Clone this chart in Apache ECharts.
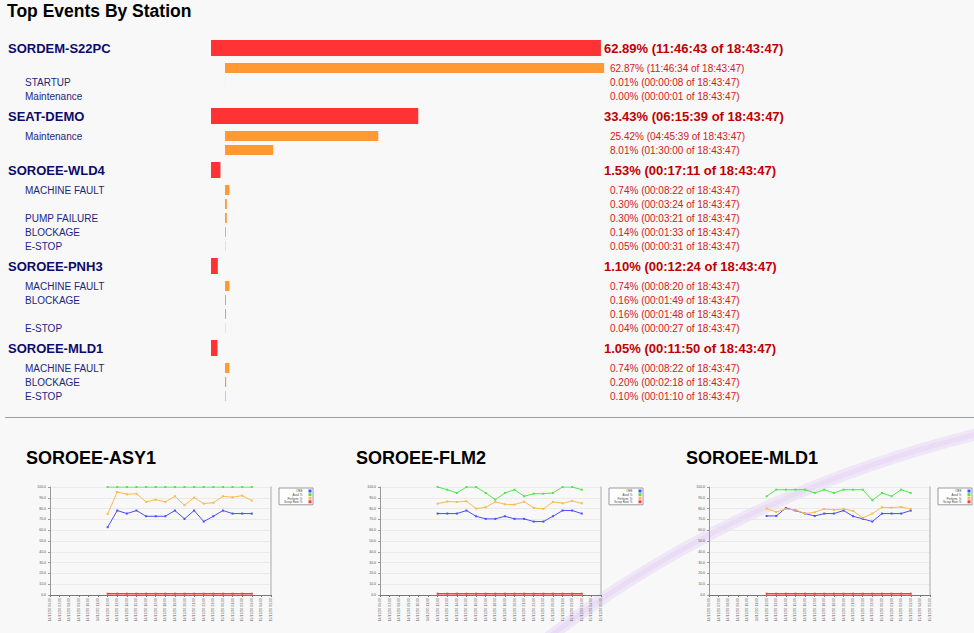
<!DOCTYPE html>
<html><head><meta charset="utf-8">
<script src="https://cdn.jsdelivr.net/npm/echarts@6/dist/echarts.min.js"></script>
<style>html,body{margin:0;padding:0;background:#f8f8f8;}#c{width:974px;height:633px;}</style>
</head><body><div id="c"></div>
<script>
// ---------- DATA ----------
const pageTitle = 'Top Events By Station';
const totalTime = '18:43:47';
const rowLabels = ['SORDEM-S22PC','','STARTUP','Maintenance','SEAT-DEMO','Maintenance','','SOROEE-WLD4','MACHINE FAULT','','PUMP FAILURE','BLOCKAGE','E-STOP','SOROEE-PNH3','MACHINE FAULT','BLOCKAGE','','E-STOP','SOROEE-MLD1','MACHINE FAULT','BLOCKAGE','E-STOP'];
const rowIsStation = [1,0,0,0,1,0,0,1,0,0,0,0,0,1,0,0,0,0,1,0,0,0];
const rowPercent = [62.89,62.87,0.01,0.00,33.43,25.42,8.01,1.53,0.74,0.30,0.30,0.14,0.05,1.10,0.74,0.16,0.16,0.04,1.05,0.74,0.20,0.10];
const rowTime = ['11:46:43','11:46:34','00:00:08','00:00:01','06:15:39','04:45:39','01:30:00','00:17:11','00:08:22','00:03:24','00:03:21','00:01:33','00:00:31','00:12:24','00:08:20','00:01:49','00:01:48','00:00:27','00:11:50','00:08:22','00:02:18','00:01:10'];

const trendTitles = ['SOROEE-ASY1','SOROEE-FLM2','SOROEE-MLD1'];
const trendNames = ['OEE','Avail %','Perform. %','Scrap Rate %'];
const trendLabels = ['14/12/20 06:00','14/12/20 07:00','14/12/20 08:00','14/12/20 09:00','14/12/20 10:00','14/12/20 11:00','14/12/20 12:00','14/12/20 13:00','14/12/20 14:00','14/12/20 15:00','14/12/20 16:00','14/12/20 17:00','14/12/20 18:00','14/12/20 19:00','14/12/20 20:00','14/12/20 21:00','14/12/20 22:00','14/12/20 23:00','15/12/20 00:00','15/12/20 01:00','15/12/20 02:00','15/12/20 03:00','15/12/20 04:00','15/12/20 05:00'];
const _ = null;
const asy1Oee   = [_,_,_,_,_,_,62.8,78.2,75.4,78.2,72.9,72.9,72.9,78.2,70.5,78.2,68.0,72.9,78.2,75.4,75.4,75.4,_,_];
const asy1Avail = [_,_,_,_,_,_,100,100,100,100,100,100,100,100,100,100,100,100,100,100,100,100,_,_];
const asy1Perf  = [_,_,_,_,_,_,75.1,95.4,93.2,93.8,86.2,88.3,86.2,91.4,83.1,90.2,84.6,85.5,91.4,90.5,92.0,87.4,_,_];
const asy1Scrap = [_,_,_,_,_,_,1.2,1.2,1.2,1.2,1.2,1.2,1.2,1.2,1.2,1.2,1.2,1.2,1.2,1.2,1.2,1.2,_,_];
const flm2Oee   = [_,_,_,_,_,_,75.4,75.4,75.4,78.2,72.9,70.5,70.5,72.9,70.5,70.5,68.0,68.0,72.9,78.2,78.2,75.4,_,_];
const flm2Avail = [_,_,_,_,_,_,100,97.5,94.5,100,100,94.5,88.3,94.5,97.5,91.4,93.8,93.8,94.5,100,100,97.5,_,_];
const flm2Perf  = [_,_,_,_,_,_,84.6,86.5,86.2,86.8,80.0,81.2,86.2,84.0,83.7,86.5,80.6,79.7,86.2,84.9,87.1,84.9,_,_];
const flm2Scrap = [_,_,_,_,_,_,1.2,1.2,1.2,1.2,1.2,1.2,1.2,1.2,1.2,1.2,1.2,1.2,1.2,1.2,1.2,1.2,_,_];
const mld1Oee   = [_,_,_,_,_,_,73.2,73.2,80.6,78.2,75.4,73.2,75.4,75.4,78.2,72.9,70.5,68.0,75.4,75.4,75.4,78.2,_,_];
const mld1Avail = [_,_,_,_,_,_,91.4,97.5,97.5,97.5,97.5,94.5,97.5,94.5,97.5,97.5,97.5,87.7,94.5,91.4,97.5,94.5,_,_];
const mld1Perf  = [_,_,_,_,_,_,80.0,76.9,79.7,78.8,75.4,76.6,79.7,78.8,79.7,77.8,71.4,75.4,81.2,80.9,81.5,79.7,_,_];
const mld1Scrap = [_,_,_,_,_,_,1.2,1.2,1.2,1.2,1.2,1.2,1.2,1.2,1.2,1.2,1.2,1.2,1.2,1.2,1.2,1.2,_,_];
const trendSeries = [
  [asy1Oee, asy1Avail, asy1Perf, asy1Scrap],
  [flm2Oee, flm2Avail, flm2Perf, flm2Scrap],
  [mld1Oee, mld1Avail, mld1Perf, mld1Scrap]
];

// ---------- STYLE / LAYOUT ----------
const FONT = '"Liberation Sans", Arial, Helvetica, sans-serif';
const trendColors = ['#4d4dff','#4de84d','#ffb84d','#ff3b3b'];
const STATION_H = 26, SUB_H = 14, LIST_TOP = 35;
const rowCenters = []; let acc = 0;
rowIsStation.forEach(s => { const h = s ? STATION_H : SUB_H; rowCenters.push(acc + h / 2); acc += h; });
const listHeight = acc;

function listRender(isStation) {
  return function (params, api) {
    const i = api.value(2);
    const p0 = api.coord([0, api.value(1)]);
    const p1 = api.coord([api.value(0), api.value(1)]);
    const h = isStation ? 16 : 10;
    const w = p1[0] - p0[0];
    const children = [];
    if (w > 0.05) children.push({ type: 'rect', shape: { x: p0[0], y: p0[1] - h / 2, width: w, height: h },
      style: { fill: isStation ? '#ff3333' : '#ff9933' } });
    children.push({ type: 'text', x: isStation ? 8 : 25, y: p0[1],
      style: { text: rowLabels[i], fill: isStation ? '#0b0b6b' : '#1c2680', fontFamily: FONT,
        fontSize: isStation ? 13 : 10, fontWeight: isStation ? 'bold' : 'normal', verticalAlign: 'middle', align: 'left' } });
    children.push({ type: 'text', x: isStation ? 604 : 610, y: p0[1],
      style: { text: rowPercent[i].toFixed(2) + '% (' + rowTime[i] + ' of ' + totalTime + ')',
        fill: isStation ? '#c00000' : '#d42020', fontFamily: FONT,
        fontSize: isStation ? 13 : 10, fontWeight: isStation ? 'bold' : 'normal', verticalAlign: 'middle', align: 'left' } });
    return { type: 'group', children };
  };
}

const stationData = [], subData = [];
rowLabels.forEach((l, i) => { (rowIsStation[i] ? stationData : subData).push([rowPercent[i], rowCenters[i], i]); });

const grid = [
  { left: 211, top: LIST_TOP, width: 620, height: listHeight },
  { left: 225, top: LIST_TOP, width: 603, height: listHeight }
];
const xAxis = [
  { gridIndex: 0, type: 'value', min: 0, max: 100, show: false },
  { gridIndex: 1, type: 'value', min: 0, max: 100, show: false }
];
const yAxis = [
  { gridIndex: 0, type: 'value', min: 0, max: listHeight, inverse: true, show: false },
  { gridIndex: 1, type: 'value', min: 0, max: listHeight, inverse: true, show: false }
];
const series = [
  { type: 'custom', xAxisIndex: 0, yAxisIndex: 0, data: stationData, renderItem: listRender(true), encode: { x: 0, y: 1 }, clip: false, silent: true },
  { type: 'custom', xAxisIndex: 1, yAxisIndex: 1, data: subData, renderItem: listRender(false), encode: { x: 0, y: 1 }, clip: false, silent: true }
];
const legend = [];
const graphic = [
  { type: 'bezierCurve', z: -10, silent: true, shape: { x1: 545, y1: 640, cpx1: 740, cpy1: 490, x2: 990, y2: 431 },
    style: { stroke: '#efe6f7', lineWidth: 12, fill: null, lineCap: 'round' } },
  { type: 'bezierCurve', z: -9, silent: true, shape: { x1: 545, y1: 640, cpx1: 740, cpy1: 490, x2: 990, y2: 431 },
    style: { stroke: '#e9dcf4', lineWidth: 5, fill: null, lineCap: 'round' } },
  { type: 'text', x: 7, y: 11, style: { text: pageTitle, fontFamily: FONT, fontSize: 17.5, fontWeight: 'bold', fill: '#000', verticalAlign: 'middle' } },
  { type: 'line', shape: { x1: 5, y1: 417.5, x2: 974, y2: 417.5 }, style: { stroke: '#a0a0a0', lineWidth: 1 } }
];

const thumbLeft = [50, 380, 709], titleLeft = [26, 356, 686], legendLeft = [279, 609, 938];
trendTitles.forEach((t, k) => {
  const g = grid.length;
  grid.push({ left: thumbLeft[k], top: 487, width: 221, height: 108 });
  const xi = xAxis.length;
  xAxis.push({ gridIndex: g, type: 'category', data: trendLabels, boundaryGap: false,
    axisLine: { lineStyle: { color: '#777', width: 1 } }, axisTick: { show: true, length: 2, lineStyle: { color: '#777' } },
    axisLabel: { rotate: 90, fontSize: 3.5, color: '#666', fontFamily: FONT, interval: 0, margin: 3 } });
  const yi = yAxis.length;
  yAxis.push({ gridIndex: g, type: 'value', min: 0, max: 100, interval: 10,
    axisLine: { show: true, lineStyle: { color: '#999' } }, axisTick: { show: true, length: 2, lineStyle: { color: '#999' } },
    axisLabel: { fontSize: 3.5, color: '#555', fontFamily: FONT, margin: 4, formatter: v => v.toFixed(1) },
    splitLine: { lineStyle: { color: '#e6e6e6', width: 0.8 } } });
  yAxis.push({ gridIndex: g, type: 'value', min: 0, max: 100, position: 'right',
    axisLine: { show: true, lineStyle: { color: '#c4c4c4', width: 1.5 } }, axisTick: { show: false },
    axisLabel: { show: false }, splitLine: { show: false } });
  graphic.push({ type: 'text', x: titleLeft[k], y: 458, style: { text: t, fontFamily: FONT, fontSize: 18, fontWeight: 'bold', fill: '#000', verticalAlign: 'middle' } });
  trendNames.forEach((n, s) => {
    series.push({ type: 'line', name: n, xAxisIndex: xi, yAxisIndex: yi, data: trendSeries[k][s],
      symbol: 'rect', symbolSize: 2, showAllSymbol: true, connectNulls: false,
      lineStyle: { width: s === 3 ? 1.6 : 1, color: trendColors[s] }, itemStyle: { color: trendColors[s] },
      emphasis: { disabled: true }, animation: false });
  });
  legend.push({ left: legendLeft[k], top: 488, orient: 'vertical', align: 'right', data: trendNames,
    icon: 'rect', itemWidth: 3, itemHeight: 3, itemGap: 0.6, padding: [1.5, 1.5, 1.5, 5],
    backgroundColor: '#ffffff', borderColor: '#9a9a9a', borderWidth: 1,
    textStyle: { fontSize: 3, color: '#444', fontFamily: FONT, padding: [0, 1, 0, 0] }, selectedMode: false });
});

const chart = echarts.init(document.getElementById('c'), null, { renderer: 'svg', width: 974, height: 633 });
chart.setOption({
  backgroundColor: '#f8f8f8',
  animation: false,
  color: trendColors,
  grid, xAxis, yAxis, series, legend, graphic
});
</script>
</body></html>
